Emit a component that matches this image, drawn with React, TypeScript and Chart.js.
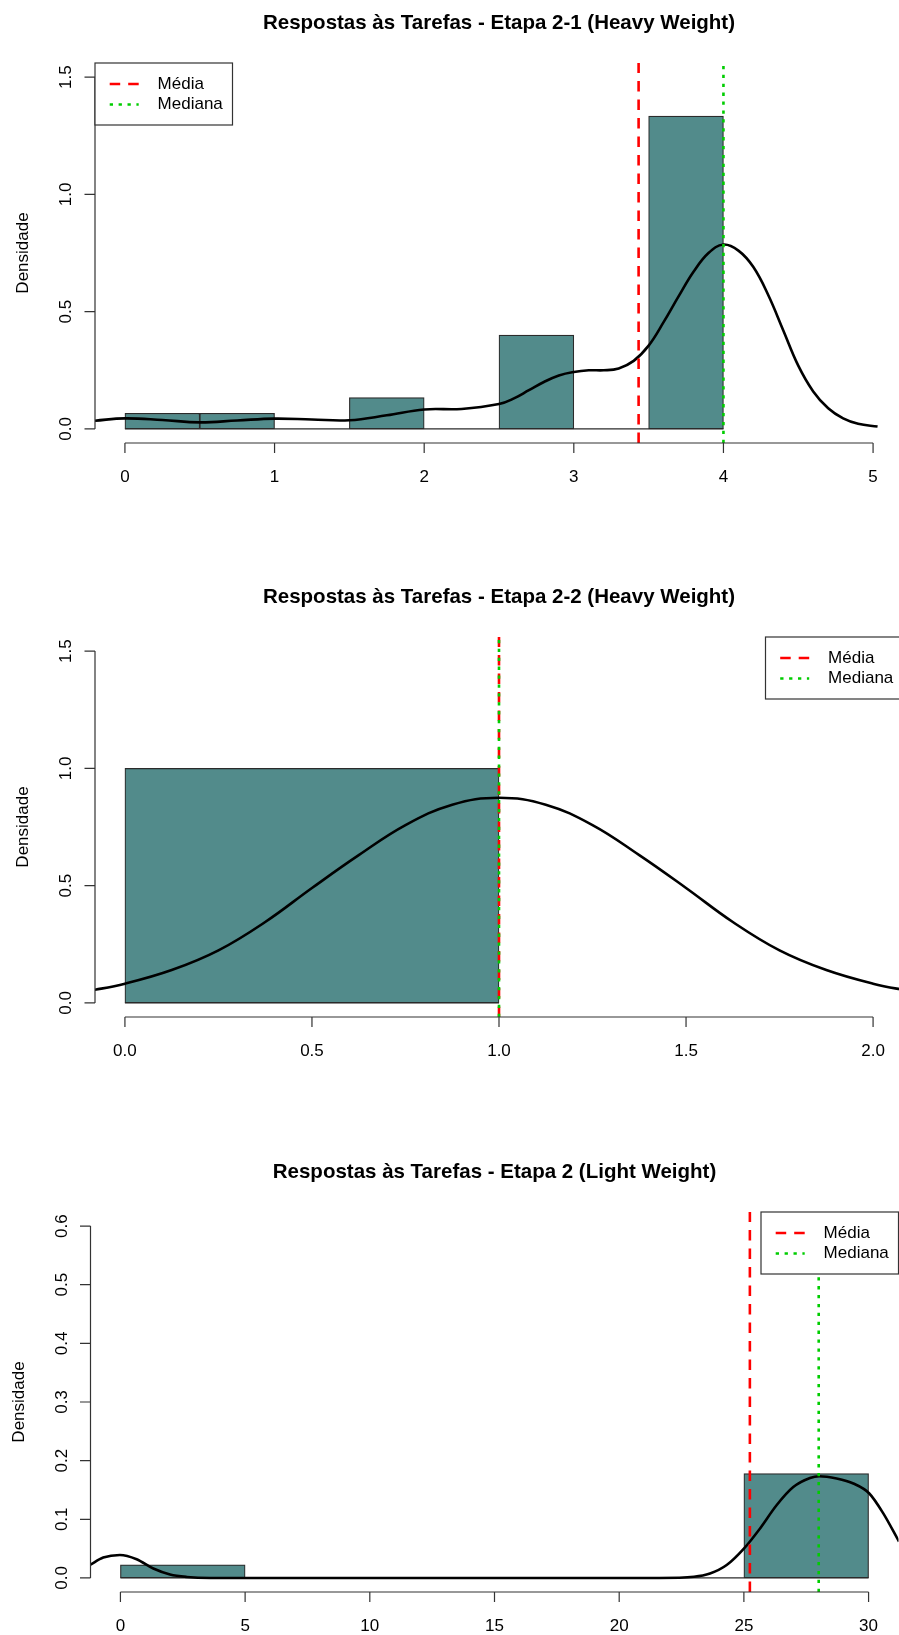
import React, { useEffect, useRef } from "react";
import { Chart, registerables } from "chart.js";

Chart.register(...registerables);

const FONT = '"Liberation Sans", Arial, Helvetica, sans-serif';

// ---------- Shared text ----------
const yAxisTitle = "Densidade";
const legendLabels = ["Média", "Mediana"];

// ---------- Panel 1 ----------
const title1 = "Respostas às Tarefas - Etapa 2-1 (Heavy Weight)";
const binEdges1 = [0, 0.5, 1, 1.5, 2, 2.5, 3, 3.5, 4];
const binDensity1 = [0.0667, 0.0667, 0, 0.1333, 0, 0.4, 0, 1.3333];
const kdeX1 = [-0.2, 0, 0.25, 0.5, 0.75, 1, 1.25, 1.5, 1.75, 2, 2.25, 2.5, 2.6, 2.7, 2.8, 2.9, 3.0, 3.1, 3.2, 3.3, 3.4, 3.5, 3.6, 3.7, 3.8, 3.9, 4.0, 4.1, 4.2, 4.3, 4.4, 4.5, 4.6, 4.7, 4.8, 4.9, 5.03];
const kdeY1 = [0.035, 0.045, 0.038, 0.028, 0.036, 0.044, 0.04, 0.037, 0.058, 0.083, 0.085, 0.106, 0.13, 0.165, 0.2, 0.228, 0.243, 0.25, 0.25, 0.258, 0.29, 0.355, 0.455, 0.565, 0.67, 0.75, 0.786, 0.76, 0.69, 0.57, 0.42, 0.27, 0.16, 0.088, 0.045, 0.022, 0.01];
const mean1 = 3.433;
const median1 = 4;
const xLim1 = [0, 5];
const yLim1 = [0, 1.5];
const xTicks1 = [0, 1, 2, 3, 4, 5];
const xTickLabels1 = ["0", "1", "2", "3", "4", "5"];
const yTicks1 = [0, 0.5, 1, 1.5];
const yTickLabels1 = ["0.0", "0.5", "1.0", "1.5"];

// ---------- Panel 2 ----------
const title2 = "Respostas às Tarefas - Etapa 2-2 (Heavy Weight)";
const binEdges2 = [0, 1];
const binDensity2 = [1.0];
const kdeX2 = [-0.1, 0, 0.125, 0.25, 0.375, 0.5, 0.625, 0.75, 0.875, 1, 1.125, 1.25, 1.375, 1.5, 1.625, 1.75, 1.875, 2, 2.1];
const kdeY2 = [0.05, 0.082, 0.14, 0.224, 0.345, 0.49, 0.63, 0.758, 0.845, 0.875, 0.845, 0.758, 0.63, 0.49, 0.345, 0.224, 0.14, 0.082, 0.05];
const mean2 = 1;
const median2 = 1;
const xLim2 = [0, 2];
const yLim2 = [0, 1.5];
const xTicks2 = [0, 0.5, 1, 1.5, 2];
const xTickLabels2 = ["0.0", "0.5", "1.0", "1.5", "2.0"];
const yTicks2 = [0, 0.5, 1, 1.5];
const yTickLabels2 = ["0.0", "0.5", "1.0", "1.5"];

// ---------- Panel 3 ----------
const title3 = "Respostas às Tarefas - Etapa 2 (Light Weight)";
const binEdges3 = [0, 5, 10, 15, 20, 25, 30];
const binDensity3 = [0.0222, 0, 0, 0, 0, 0.1778];
const kdeX3 = [-1.2, -0.69, -0.02, 0.65, 1.32, 1.99, 2.66, 3.6, 21.6, 23.0, 23.64, 24.31, 25.0, 25.64, 26.31, 26.98, 27.65, 28.02, 28.72, 29.39, 30.03, 30.59, 31.22];
const kdeY3 = [0.0228, 0.0348, 0.0392, 0.0319, 0.016, 0.0058, 0.0017, 0, 0, 0.002, 0.0075, 0.022, 0.05, 0.084, 0.124, 0.155, 0.1705, 0.1735, 0.1695, 0.161, 0.144, 0.11, 0.062];
const mean3 = 25.24;
const median3 = 28;
const xLim3 = [0, 30];
const yLim3 = [0, 0.6];
const xTicks3 = [0, 5, 10, 15, 20, 25, 30];
const xTickLabels3 = ["0", "5", "10", "15", "20", "25", "30"];
const yTicks3 = [0, 0.1, 0.2, 0.3, 0.4, 0.5, 0.6];
const yTickLabels3 = ["0.0", "0.1", "0.2", "0.3", "0.4", "0.5", "0.6"];

// ---------- Layout (styling, not data) ----------
const CANVAS_W = 910;
const CANVAS_H = 574;
const PLOT_W = 808;
const PLOT_TOP = 63;
const PLOT_BOTTOM = 443;

type Panel = {
  title: string;
  binEdges: number[];
  binDensity: number[];
  kdeX: number[];
  kdeY: number[];
  mean: number;
  median: number;
  xLim: number[];
  yLim: number[];
  xTicks: number[];
  xTickLabels: string[];
  yTicks: number[];
  yTickLabels: string[];
  legendPos: "topleft" | "topright";
  plotLeft: number;
  top: number;
  monotone: boolean;
};

const panels: Panel[] = [
  { title: title1, binEdges: binEdges1, binDensity: binDensity1, kdeX: kdeX1, kdeY: kdeY1, mean: mean1, median: median1, xLim: xLim1, yLim: yLim1, xTicks: xTicks1, xTickLabels: xTickLabels1, yTicks: yTicks1, yTickLabels: yTickLabels1, legendPos: "topleft", plotLeft: 95, top: 0, monotone: false },
  { title: title2, binEdges: binEdges2, binDensity: binDensity2, kdeX: kdeX2, kdeY: kdeY2, mean: mean2, median: median2, xLim: xLim2, yLim: yLim2, xTicks: xTicks2, xTickLabels: xTickLabels2, yTicks: yTicks2, yTickLabels: yTickLabels2, legendPos: "topright", plotLeft: 95, top: 574, monotone: false },
  { title: title3, binEdges: binEdges3, binDensity: binDensity3, kdeX: kdeX3, kdeY: kdeY3, mean: mean3, median: median3, xLim: xLim3, yLim: yLim3, xTicks: xTicks3, xTickLabels: xTickLabels3, yTicks: yTicks3, yTickLabels: yTickLabels3, legendPos: "topright", plotLeft: 90.5, top: 1149, monotone: true },
];

const BAR_FILL = "#528B8B";
const BAR_BORDER = "#2b2b2b";
const AXIS_COLOR = "#333333";
const RED = "#FF0000";
const GREEN = "#00CD00";
const RED_DASH = [10.5, 8];
const GREEN_DASH = [3.3, 5.6];
const LINE_W = 2.6;

function decorPlugin(p: Panel) {
  return {
    id: "rdecor",
    afterDraw(chart: any) {
      const ctx: CanvasRenderingContext2D = chart.ctx;
      const xs = chart.scales.x;
      const ys = chart.scales.y;
      const ca = chart.chartArea;
      ctx.save();

      // Title
      ctx.fillStyle = "#000";
      ctx.font = `bold 20.5px ${FONT}`;
      ctx.textAlign = "center";
      ctx.textBaseline = "alphabetic";
      ctx.fillText(p.title, (ca.left + ca.right) / 2, 28.5);

      // X axis
      ctx.strokeStyle = AXIS_COLOR;
      ctx.lineWidth = 1.2;
      ctx.setLineDash([]);
      const xa = xs.getPixelForValue(p.xTicks[0]);
      const xb = xs.getPixelForValue(p.xTicks[p.xTicks.length - 1]);
      ctx.beginPath();
      ctx.moveTo(xa, ca.bottom);
      ctx.lineTo(xb, ca.bottom);
      p.xTicks.forEach((v) => {
        const px = xs.getPixelForValue(v);
        ctx.moveTo(px, ca.bottom);
        ctx.lineTo(px, ca.bottom + 10);
      });
      ctx.stroke();
      ctx.font = `17px ${FONT}`;
      ctx.fillStyle = "#000";
      ctx.textAlign = "center";
      p.xTicks.forEach((v, i) => {
        ctx.fillText(p.xTickLabels[i], xs.getPixelForValue(v), ca.bottom + 38.5);
      });

      // Y axis
      const ya = ys.getPixelForValue(p.yTicks[0]);
      const yb = ys.getPixelForValue(p.yTicks[p.yTicks.length - 1]);
      ctx.beginPath();
      ctx.moveTo(ca.left, ya);
      ctx.lineTo(ca.left, yb);
      p.yTicks.forEach((v) => {
        const py = ys.getPixelForValue(v);
        ctx.moveTo(ca.left, py);
        ctx.lineTo(ca.left - 10.5, py);
      });
      ctx.stroke();
      p.yTicks.forEach((v, i) => {
        ctx.save();
        ctx.translate(ca.left - 24, ys.getPixelForValue(v));
        ctx.rotate(-Math.PI / 2);
        ctx.textAlign = "center";
        ctx.fillText(p.yTickLabels[i], 0, 0);
        ctx.restore();
      });

      // Y axis title
      ctx.save();
      ctx.translate(ca.left - 67, (ca.top + ca.bottom) / 2);
      ctx.rotate(-Math.PI / 2);
      ctx.textAlign = "center";
      ctx.fillText(yAxisTitle, 0, 0);
      ctx.restore();

      // Legend
      const lw = 137.5;
      const lh = 62;
      const lx = p.legendPos === "topleft" ? ca.left : ca.right - lw;
      const ly = ca.top;
      ctx.fillStyle = "#fff";
      ctx.fillRect(lx, ly, lw, lh);
      ctx.strokeStyle = AXIS_COLOR;
      ctx.lineWidth = 1.2;
      ctx.strokeRect(lx, ly, lw, lh);
      const rows = [
        { color: RED, dash: RED_DASH, label: legendLabels[0], y: ly + 21 },
        { color: GREEN, dash: GREEN_DASH, label: legendLabels[1], y: ly + 41.5 },
      ];
      rows.forEach((r) => {
        ctx.strokeStyle = r.color;
        ctx.lineWidth = LINE_W;
        ctx.setLineDash(r.dash);
        ctx.beginPath();
        ctx.moveTo(lx + 14.7, r.y);
        ctx.lineTo(lx + 43.7, r.y);
        ctx.stroke();
        ctx.setLineDash([]);
        ctx.fillStyle = "#000";
        ctx.textAlign = "left";
        ctx.textBaseline = "middle";
        ctx.font = `17px ${FONT}`;
        ctx.fillText(r.label, lx + 62.6, r.y);
      });

      ctx.restore();
    },
  };
}

function makeChart(canvas: HTMLCanvasElement, p: Panel) {
  const xr = p.xLim[1] - p.xLim[0];
  const yr = p.yLim[1] - p.yLim[0];
  const xmin = p.xLim[0] - 0.04 * xr;
  const xmax = p.xLim[1] + 0.04 * xr;
  const ymin = p.yLim[0] - 0.04 * yr;
  const ymax = p.yLim[1] + 0.04 * yr;
  const binW = p.binEdges[1] - p.binEdges[0];
  const bars = p.binDensity.map((d, i) => ({ x: (p.binEdges[i] + p.binEdges[i + 1]) / 2, y: d }));
  const baseline = [
    { x: p.binEdges[0], y: 0 },
    { x: p.binEdges[p.binEdges.length - 1], y: 0 },
  ];
  const kde = p.kdeX.map((x, i) => ({ x, y: p.kdeY[i] }));

  return new Chart(canvas, {
    type: "bar",
    data: {
      datasets: [
        {
          type: "bar",
          data: bars as any,
          backgroundColor: BAR_FILL,
          borderColor: BAR_BORDER,
          borderWidth: 1.2,
          borderSkipped: false,
          barPercentage: 1,
          categoryPercentage: 1,
          order: 5,
        } as any,
        {
          type: "line",
          data: baseline as any,
          borderColor: BAR_BORDER,
          borderWidth: 1.2,
          pointRadius: 0,
          order: 4,
        } as any,
        {
          type: "line",
          data: kde as any,
          borderColor: "#000000",
          borderWidth: LINE_W,
          pointRadius: 0,
          cubicInterpolationMode: p.monotone ? "monotone" : "default",
          tension: p.monotone ? 0 : 0.4,
          borderJoinStyle: "round",
          order: 3,
        } as any,
        {
          type: "line",
          data: [
            { x: p.mean, y: ymin },
            { x: p.mean, y: ymax },
          ] as any,
          borderColor: RED,
          borderDash: RED_DASH,
          borderWidth: LINE_W,
          pointRadius: 0,
          order: 2,
        } as any,
        {
          type: "line",
          data: [
            { x: p.median, y: ymin },
            { x: p.median, y: ymax },
          ] as any,
          borderColor: GREEN,
          borderDash: GREEN_DASH,
          borderWidth: LINE_W,
          pointRadius: 0,
          order: 1,
        } as any,
      ],
    },
    options: {
      responsive: false,
      animation: false,
      devicePixelRatio: 1,
      layout: {
        padding: {
          left: p.plotLeft,
          right: CANVAS_W - (p.plotLeft + PLOT_W),
          top: PLOT_TOP,
          bottom: CANVAS_H - PLOT_BOTTOM,
        },
      },
      plugins: {
        legend: { display: false },
        title: { display: false },
        tooltip: { enabled: false },
      },
      scales: {
        x: {
          type: "linear",
          min: xmin,
          max: xmax,
          display: false,
          offset: false,
          ticks: { stepSize: binW, includeBounds: false },
        },
        y: {
          type: "linear",
          min: ymin,
          max: ymax,
          display: false,
        },
      },
    } as any,
    plugins: [decorPlugin(p)],
  });
}

function HistPanel({ panel }: { panel: Panel }) {
  const ref = useRef<HTMLCanvasElement>(null);
  useEffect(() => {
    if (!ref.current) return;
    const chart = makeChart(ref.current, panel);
    return () => chart.destroy();
  }, [panel]);
  return (
    <canvas
      ref={ref}
      width={CANVAS_W}
      height={CANVAS_H}
      style={{ position: "absolute", left: 0, top: panel.top, width: CANVAS_W, height: CANVAS_H }}
    />
  );
}

export default function App() {
  return (
    <div
      style={{
        position: "absolute",
        left: 0,
        top: 0,
        width: 899,
        height: 1635,
        overflow: "hidden",
        background: "#fff",
      }}
    >
      {panels.map((p, i) => (
        <HistPanel key={i} panel={p} />
      ))}
    </div>
  );
}
